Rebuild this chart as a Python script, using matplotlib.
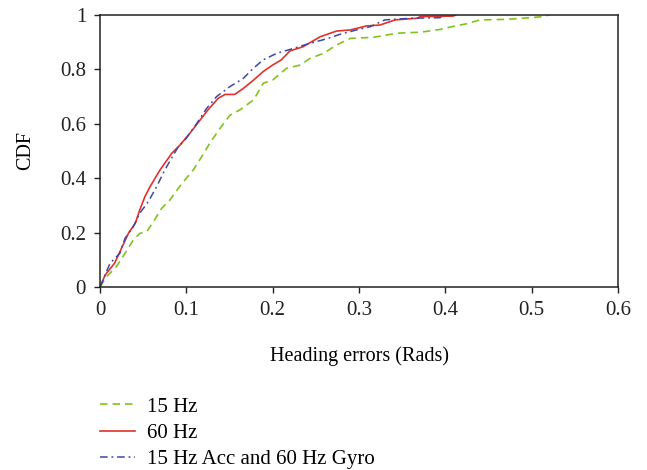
import matplotlib
matplotlib.use("Agg")
import matplotlib.pyplot as plt

# 15 Hz (green dashed)
hz15_x = [0, 0.0077, 0.019, 0.029, 0.0386, 0.046, 0.054, 0.0618, 0.0714, 0.081, 0.0907, 0.1, 0.108,
          0.1178, 0.127, 0.139, 0.1506, 0.162, 0.178, 0.189, 0.2, 0.216, 0.232, 0.243, 0.259, 0.274,
          0.286, 0.29, 0.317, 0.344, 0.372, 0.394, 0.409, 0.425, 0.44, 0.471, 0.502, 0.513, 0.52]
hz15_y = [0, 0.038, 0.075, 0.124, 0.173, 0.197, 0.203, 0.24, 0.289, 0.32, 0.363, 0.40, 0.43,
          0.479, 0.528, 0.583, 0.632, 0.651, 0.688, 0.749, 0.761, 0.804, 0.816, 0.84, 0.859, 0.89,
          0.908, 0.914, 0.918, 0.933, 0.937, 0.947, 0.958, 0.968, 0.982, 0.984, 0.991, 0.994, 1.0]

# 60 Hz (red solid)
hz60_x = [0, 0.006, 0.017, 0.025, 0.033, 0.041, 0.046, 0.052, 0.058, 0.0695, 0.083, 0.0927, 0.104,
          0.116, 0.125, 0.137, 0.145, 0.156, 0.166, 0.178, 0.189, 0.2, 0.21, 0.22, 0.235, 0.255,
          0.274, 0.29, 0.309, 0.324, 0.342, 0.367, 0.371, 0.409, 0.412]
hz60_y = [0, 0.044, 0.088, 0.143, 0.198, 0.235, 0.283, 0.332, 0.369, 0.43, 0.491, 0.522, 0.565,
          0.614, 0.651, 0.694, 0.708, 0.708, 0.73, 0.761, 0.792, 0.816, 0.835, 0.868, 0.883, 0.92,
          0.941, 0.945, 0.96, 0.963, 0.982, 0.988, 0.994, 0.996, 1.0]

# 15 Hz Acc and 60 Hz Gyro (blue dash-dot)
mix_x = [0, 0.0116, 0.023, 0.029, 0.0386, 0.046, 0.056, 0.0656, 0.075, 0.083, 0.0907, 0.1, 0.112,
         0.1236, 0.135, 0.1506, 0.166, 0.1776, 0.189, 0.2047, 0.224, 0.239, 0.262, 0.278, 0.297,
         0.313, 0.33, 0.359, 0.394, 0.398]
mix_y = [0, 0.087, 0.124, 0.179, 0.222, 0.271, 0.314, 0.369, 0.43, 0.474, 0.516, 0.547, 0.601,
         0.657, 0.70, 0.737, 0.767, 0.804, 0.835, 0.859, 0.877, 0.892, 0.912, 0.929, 0.945,
         0.957, 0.982, 0.988, 0.99, 1.0]

labels = ["15 Hz", "60 Hz", "15 Hz Acc and 60 Hz Gyro"]
xticks = [0, 0.1, 0.2, 0.3, 0.4, 0.5, 0.6]
yticks = [0, 0.2, 0.4, 0.6, 0.8, 1]

plt.rcParams['font.family'] = ['Liberation Serif', 'DejaVu Serif']
FS = 15

fig = plt.figure(figsize=(6.47, 4.70), dpi=100)
ax = fig.add_axes([100/647, 1-287/470, (618-100)/647, (287-15)/470])

l1, = ax.plot(hz15_x, hz15_y, color='#80c31c', lw=1.2, dashes=(4.5, 3))
l2, = ax.plot(hz60_x, hz60_y, color='#e2312b', lw=1.2)
l3, = ax.plot(mix_x, mix_y, color='#3d48a8', lw=1.1, dashes=(5, 2.5, 1.2, 2.5))

ax.set_xlim(0, 0.6)
ax.set_ylim(0, 1)
ax.set_xticks(xticks)
ax.set_xticklabels([f"{t:g}" for t in xticks], fontsize=FS)
ax.set_yticks(yticks)
ax.set_yticklabels([f"{t:g}" for t in yticks], fontsize=FS)
ax.tick_params(direction='out', length=4, width=1, pad=6, colors='#222222')
for s in ax.spines.values():
    s.set_linewidth(1.1)
    s.set_color('#222222')

ax.set_xlabel("Heading errors (Rads)", fontsize=14.5, labelpad=19)
ax.set_ylabel("CDF", fontsize=14.5, labelpad=18)

fig.legend([l1, l2, l3], labels, loc='upper left', bbox_to_anchor=(100/647, 1-397/470),
           frameon=False, fontsize=FS, handlelength=1.7, handletextpad=0.55,
           labelspacing=0.32, borderpad=0, borderaxespad=0)

fig.savefig("out.png", dpi=100)
